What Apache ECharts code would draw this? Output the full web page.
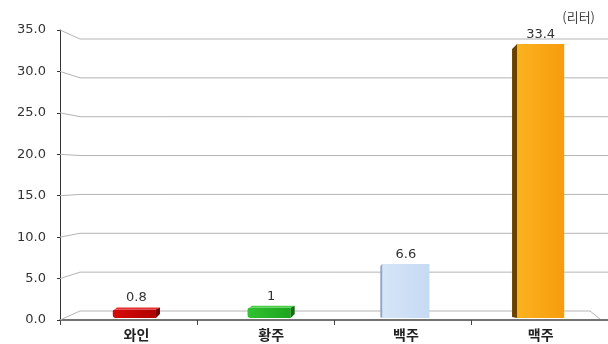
<!DOCTYPE html>
<html>
<head>
<meta charset="utf-8">
<script src="https://cdn.jsdelivr.net/npm/echarts@6/dist/echarts.min.js"></script>
<style>
  html, body { margin: 0; padding: 0; background: #fff; }
  #main { width: 608px; height: 344px; }
</style>
</head>
<body>
<div id="main"></div>
<script>
// 데이터
var categories = ['와인', '황주', '백주', '맥주'];
var values = [0.8, 1, 6.6, 33.4];
var valueLabels = ['0.8', '1', '6.6', '33.4'];
var yTicks = [0, 5, 10, 15, 20, 25, 30, 35];
var unitText = '(리터)';

// 막대 색 (front / side / 면 위치)
var barStyles = [
  { front: ['#d80a0a', '#b00000'], side: '#6e0000', top: '#e43030', sideAt: 'right' },
  { front: ['#32c232', '#1ea41e'], side: '#136e13', top: '#4cd04c', sideAt: 'right' },
  { front: ['#d6e5f8', '#c6daf3'], side: '#8ea6c8', top: '#e2ecfa', sideAt: 'left' },
  { front: ['#fbb21f', '#f79c0c'], side: '#6a4200', top: '#fcc048', sideAt: 'left' }
];

var chart = echarts.init(document.getElementById('main'), null, { renderer: 'canvas' });

// 뒷벽 격자선 (3D 흉내): 앞쪽 눈금에서 뒷벽으로 비스듬히
function renderGrid(params, api) {
  var cs = params.coordSys;
  var v = api.value(1);
  var yFront = api.coord([0, v])[1];
  var yB = api.coord([0, yTicks[0]])[1] - 9;
  var yT = api.coord([0, yTicks[yTicks.length - 1]])[1] + 9;
  var t = (v - yTicks[0]) / (yTicks[yTicks.length - 1] - yTicks[0]);
  var yBack = yB - (yB - yT) * t;
  var x0 = cs.x, x1 = cs.x + cs.width;
  var pts;
  if (v === yTicks[0]) {
    pts = [[x0, yFront], [x0 + 20, yBack], [x1 - 18, yBack], [x1 - 8, yFront - 1]];
  } else {
    pts = [[x0, yFront], [x0 + 20, yBack], [x1, yBack]];
  }
  return {
    type: 'polyline',
    shape: { points: pts },
    style: { stroke: '#b4b4b4', lineWidth: 1, fill: null },
    silent: true
  };
}

function renderBar(params, api) {
  var idx = api.value(0);
  var v = api.value(1);
  var top = api.coord([idx, v]);
  var base = api.coord([idx, 0]);
  var w = api.size([1, 0])[0] * 0.35;
  var x0 = top[0] - w / 2, x1 = top[0] + w / 2;
  var yb = base[1];
  var st = barStyles[params.dataIndex];
  var yt = top[1];
  var children = [];
  if (st.sideAt === 'left') {
    var d = params.dataIndex === 3 ? 5 : 2;
    children.push({
      type: 'rect',
      shape: { x: x0, y: yt, width: w, height: yb - yt },
      style: {
        fill: new echarts.graphic.LinearGradient(0, 0, 1, 0, [
          { offset: 0, color: st.front[0] },
          { offset: 1, color: st.front[1] }
        ])
      }
    });
    children.push({
      type: 'polygon',
      shape: { points: [[x0 - d, yt + d], [x0, yt], [x0, yb], [x0 - d, yb - 1]] },
      style: { fill: st.side }
    });
  } else {
    // 작은 막대: 윗면 + 오른쪽 옆면
    var th = 4;
    yt = yt - th;
    children.push({
      type: 'rect',
      shape: { x: x0, y: yt + 2, width: w - 4, height: yb - yt - 2, r: [2, 0, 0, 3] },
      style: {
        fill: new echarts.graphic.LinearGradient(0, 0, 1, 0, [
          { offset: 0, color: st.front[0] },
          { offset: 1, color: st.front[1] }
        ])
      }
    });
    children.push({
      type: 'polygon',
      shape: { points: [[x0 + 2, yt + 2], [x0 + 4, yt], [x1, yt], [x1 - 4, yt + 2]] },
      style: { fill: st.top }
    });
    children.push({
      type: 'polygon',
      shape: { points: [[x1 - 4, yt + 2], [x1, yt], [x1, yb - 4], [x1 - 4, yb]] },
      style: { fill: st.side }
    });
  }
  children.push({
    type: 'text',
    style: {
      text: valueLabels[params.dataIndex],
      x: top[0],
      y: yt - 3,
      align: 'center',
      verticalAlign: 'bottom',
      fill: '#333',
      font: '13px "DejaVu Sans"'
    }
  });
  return { type: 'group', children: children };
}

var option = {
  backgroundColor: '#fff',
  animation: false,
  title: {
    text: unitText,
    right: 8,
    top: 6,
    textStyle: { fontSize: 13, fontWeight: 'normal', color: '#444', fontFamily: 'Noto Sans CJK KR' }
  },
  grid: [
    { left: 60, width: 556, top: 30, bottom: 24 },
    { left: 69, width: 540, top: 31, bottom: 26 }
  ],
  xAxis: [
    {
      type: 'category',
      gridIndex: 0,
      data: categories,
      axisLine: { lineStyle: { color: '#444', width: 1.5 } },
      axisTick: { show: true, length: 5, lineStyle: { color: '#444' } },
      axisLabel: { show: false }
    },
    {
      type: 'category',
      gridIndex: 1,
      data: categories,
      axisLine: { show: false },
      axisTick: { show: false },
      axisLabel: {
        margin: 10,
        fontSize: 14,
        fontWeight: 'bold',
        color: '#222',
        fontFamily: 'Noto Sans CJK KR'
      }
    }
  ],
  yAxis: [
    {
      type: 'value',
      gridIndex: 0,
      min: 0,
      max: 35,
      interval: 5,
      axisLine: { show: true, lineStyle: { color: '#333' } },
      axisTick: { show: true, length: 3, lineStyle: { color: '#333' } },
      splitLine: { show: false },
      axisLabel: {
        margin: 14,
        fontSize: 13,
        color: '#333',
        fontFamily: 'DejaVu Sans',
        formatter: function (v) { return v.toFixed(1); }
      }
    },
    {
      type: 'value',
      gridIndex: 1,
      min: 0,
      max: 35,
      interval: 5,
      show: false
    }
  ],
  series: [
    {
      type: 'custom',
      xAxisIndex: 0,
      yAxisIndex: 0,
      clip: false,
      z: 1,
      renderItem: renderGrid,
      data: yTicks.map(function (t) { return [0, t]; })
    },
    {
      type: 'custom',
      xAxisIndex: 1,
      yAxisIndex: 1,
      clip: false,
      z: 5,
      renderItem: renderBar,
      data: values.map(function (v, i) { return [i, v]; })
    }
  ]
};

chart.setOption(option);
</script>
</body>
</html>
